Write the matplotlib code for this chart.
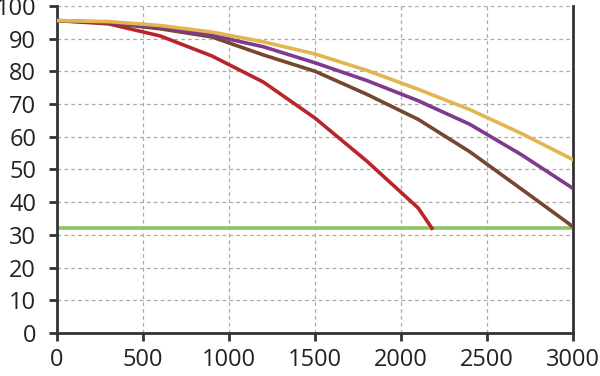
import matplotlib.pyplot as plt

plt.rcParams['font.family'] = ['Open Sans', 'DejaVu Sans']

x = [0, 300, 600, 900, 1200, 1500, 1800, 2100, 2400, 2700, 3000]
x_red = [0, 300, 600, 900, 1200, 1500, 1800, 2100, 2180]
red = [95.5, 94.5, 90.8, 84.7, 76.7, 65.7, 52.6, 38.2, 32.0]
brown = [95.5, 94.8, 93.0, 90.5, 85.0, 80.0, 73.0, 65.3, 55.4, 44.0, 32.5]
purple = [95.5, 95.0, 93.5, 91.0, 87.5, 82.6, 77.2, 71.0, 63.8, 54.5, 44.2]
yellow = [95.5, 95.2, 94.0, 92.0, 89.0, 85.3, 80.3, 74.5, 68.3, 61.0, 53.0]
limit = 32.0

fig = plt.figure(figsize=(6, 3.76), dpi=100)
ax = fig.add_axes([0.095, 0.1144, 0.86, 0.87])

ax.axhline(limit, color="#8cc465", lw=2.6, zorder=2)
ax.plot(x_red, red, color="#b8262c", lw=2.6, zorder=3)
ax.plot(x, brown, color="#774630", lw=2.6, zorder=3)
ax.plot(x, purple, color="#7d3a8f", lw=2.6, zorder=3)
ax.plot(x, yellow, color="#e2b550", lw=2.6, zorder=3)

ax.set_xlim(0, 3000)
ax.set_ylim(0, 100)
ax.set_xticks(range(0, 3001, 500))
ax.set_yticks(range(0, 101, 10))
ax.grid(True, color="#ababab", ls=(0, (3, 2.5)), lw=0.9)
ax.set_axisbelow(True)

for s in ["left", "bottom", "right"]:
    ax.spines[s].set_color("#333333")
    ax.spines[s].set_linewidth(2)
ax.spines["top"].set_visible(False)
ax.tick_params(direction="out", length=5.5, width=2, color="#333333",
               labelsize=17, labelcolor="#222222")
ax.tick_params(axis="x", pad=5)
ax.tick_params(axis="y", pad=9.5)

fig.savefig("out.png", dpi=100)
